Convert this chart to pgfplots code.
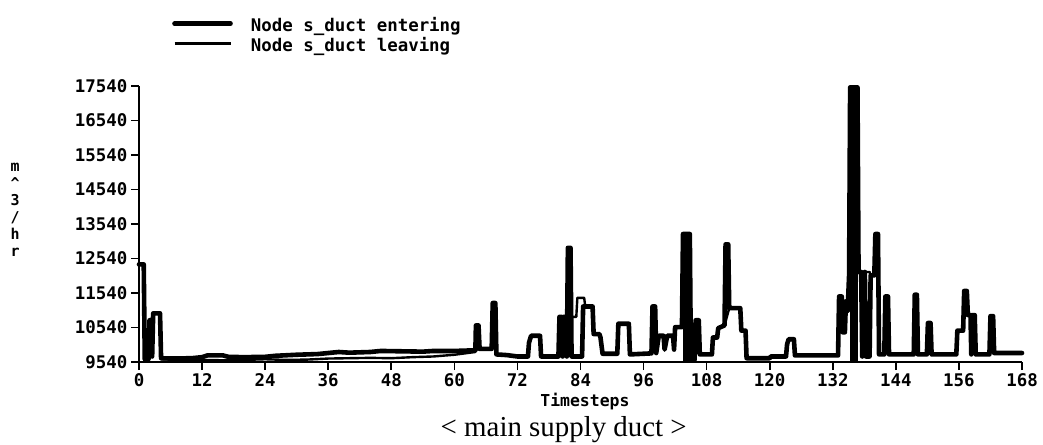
\documentclass[border=0pt]{standalone}
\usepackage{pgfplots}
\pgfplotsset{compat=1.18}
\usepackage{fontspec}
\setmainfont{DejaVu Sans Mono}
\newfontfamily\captionfont{Liberation Serif}

\newcommand\plotfont{\bfseries\fontsize{17.5}{21}\selectfont}

\begin{document}
\begin{tikzpicture}
\path[use as bounding box] (0,0) rectangle (1043bp,445bp);
\begin{axis}[
  at={(139bp,83bp)}, anchor=south west,
  scale only axis, width=883bp, height=276bp,
  xmin=0, xmax=168, ymin=9540, ymax=17540,
  axis lines*=left,
  axis line style={line width=1.6bp},
  xtick={0,12,24,36,48,60,72,84,96,108,120,132,144,156,168},
  ytick={9540,10540,11540,12540,13540,14540,15540,16540,17540},
  yticklabels={9540,10540,11540,12540,13540,14540,15540,16540,17540},
  scaled ticks=false,
  tick align=outside,
  major tick length=8bp,
  every tick/.style={black, line width=1.6bp},
  tick label style={font=\plotfont},
  /pgf/number format/assume math mode=true,
  /pgf/number format/1000 sep={},
  xlabel={Timesteps},
  xlabel style={font=\bfseries\fontsize{16.5}{20}\selectfont, at={(axis description cs:0.505,-0.142)}, anchor=center},
  ylabel={m\\\textasciicircum\\3\\/\\h\\r},
  ylabel style={font=\bfseries\fontsize{15}{17}\selectfont, rotate=-90, align=center,
                at={(axis description cs:-0.1404,0.551)}, anchor=center},
  clip=false,
  legend cell align=left,
  legend image code/.code={\draw[#1] (0bp,3.5bp) -- (56bp,3.5bp);},
  legend style={draw=none, fill=none, inner sep=0pt, row sep=4bp,
    at={(axis description cs:0.0374,1.243)}, anchor=north west,
    font=\plotfont,
    nodes={inner sep=0pt, text height=12bp, text depth=4bp},
    /tikz/every odd column/.append style={column sep=18bp}},
]
% solid bodies of the two widest entering peaks
\addplot[black, fill=black, draw=none, forget plot] coordinates {(103.5,13250) (104.9,13250)} \closedcycle;
\addplot[black, fill=black, draw=none, forget plot] coordinates {(135.3,17500) (136.8,17500)} \closedcycle;
% flow entering the duct node
\addplot[black, line width=4.6bp, line join=round, line cap=round] coordinates {
(0,12370) (0.9,12370) (1.1,9620) (1.8,9620) (2.0,10750) (2.3,10750) (2.5,9700) (2.7,10950) (4.0,10950) (4.2,9650)
(6,9640) (10,9650) (12,9680) (13,9730) (16,9730) (17,9690) (20,9680) (24,9690) (26,9720) (30,9750)
(34,9770) (36,9800) (38,9830) (40,9810) (44,9830) (46,9860) (50,9850) (54,9840) (56,9860) (60,9860) (64.0,9880)
(64.1,10600) (64.6,10600) (64.8,9920) (67.1,9920) (67.3,11250) (67.8,11250) (68.0,9760) (70,9740) (72,9700) (74,9700)
(74.2,10100) (74.6,10300) (76.3,10300) (76.5,9700) (79.8,9700)
(80.0,10850) (80.4,10850) (80.6,9700) (80.8,10850) (81.2,10850) (81.4,9700) (81.6,12850) (82.1,12850)
(82.3,9700) (84.3,9700) (84.5,11150)
(86.3,11150) (86.5,10350) (87.6,10350) (87.8,10250) (88.2,9780) (91.0,9780) (91.2,10650) (93.2,10650) (93.4,9760) (97.5,9790)
(97.7,11150) (98.2,11150) (98.4,9800) (98.9,10300) (99.8,10300) (100.0,9900) (100.5,10300) (101.6,10300)
(101.8,9900) (102.0,10550) (103.3,10550) (103.5,13250) (104.8,13250)
(105.0,9600) (105.7,9600) (105.9,10750) (106.5,10750) (106.7,9760) (109,9760)
(109.2,10250) (110,10250) (110.2,10520) (111.4,10600) (111.6,12950) (112.1,12950) (112.3,11100) (114.4,11100)
(114.6,10450) (115.4,10450) (115.6,9650) (120,9650)
(120.2,9700) (123.1,9700) (123.3,10050) (123.6,10200) (124.6,10200) (124.8,9730) (133,9730)
(133.2,11440) (133.7,11440) (133.9,10400) (134.3,10400) (134.5,11300) (134.9,11300) (135.1,12050)
(135.3,17500) (136.7,17500) (136.9,12150) (137.4,12150)
(137.6,9700) (138.1,12150) (138.3,9700) (139.0,9700) (139.2,12050) (139.9,12050)
(140.1,13250) (140.6,13250) (140.8,9760) (141.8,9760) (142.0,11440) (142.5,11440) (142.7,9760) (147.4,9760)
(147.6,11490) (148.0,11490) (148.2,9760) (149.9,9760) (150.1,10670) (150.6,10670) (150.8,9760) (155.5,9760)
(155.7,10450) (156.8,10450) (157.0,11600) (157.5,11600) (157.7,10900) (158.2,10900) (158.35,9760)
(158.5,10900) (159.0,10900) (159.2,9760) (161.8,9760)
(162.0,10870) (162.5,10870) (162.7,9800) (168,9800)
};
\addlegendentry{Node s\_duct entering}
% flow leaving the duct node
\addplot[black, line width=2.4bp, line join=round] coordinates {
(0,12370) (0.9,12370) (1.1,9620) (1.8,9620) (2.0,10750) (2.3,10750) (2.7,10950) (4.0,10950) (4.2,9620)
(6,9610) (12,9600) (16,9590) (20,9600) (24,9620) (28,9600) (32,9610) (36,9640) (40,9650) (44,9660)
(48,9650) (52,9680) (56,9700) (60,9750) (64.0,9830)
(64.1,10600) (64.6,10600) (64.8,9920) (67.1,9920) (67.3,11250) (67.8,11250) (68.0,9760) (70,9740) (72,9700) (74,9700)
(74.2,10100) (74.6,10300) (76.3,10300) (76.5,9700) (79.8,9700)
(80.0,10850) (83.2,10850) (83.4,11400) (84.7,11400) (84.9,11150)
(86.3,11150) (86.5,10350) (87.6,10350) (87.8,10250) (88.2,9780) (91.0,9780) (91.2,10650) (93.2,10650) (93.4,9760) (97.5,9790)
(97.7,11150) (98.2,11150) (98.4,10300) (101.9,10300) (102.1,10550) (104.8,10550) (105.0,9600) (105.7,9600)
(105.9,10750) (106.5,10750) (106.7,9760) (109,9760)
(109.2,10250) (110,10250) (110.2,10520) (111.4,10600) (112.3,11100) (114.4,11100)
(114.6,10450) (115.4,10450) (115.6,9650) (120,9650)
(120.2,9700) (123.1,9700) (123.3,10050) (123.6,10200) (124.6,10200) (124.8,9730) (133,9730)
(133.2,11000) (135.0,11000) (135.1,12050) (137.3,12150) (139.0,12150) (139.2,12050) (140.6,12050)
(140.8,9760) (141.8,9760) (142.0,11440) (142.5,11440) (142.7,9760) (147.4,9760)
(147.6,11490) (148.0,11490) (148.2,9760) (149.9,9760) (150.1,10670) (150.6,10670) (150.8,9760) (155.5,9760)
(155.7,10450) (156.8,10450) (157.0,11600) (157.5,11600) (157.7,10900) (159.0,10900) (159.2,9760) (161.8,9760)
(162.0,10870) (162.5,10870) (162.7,9800) (168,9800)
};
\addlegendentry{Node s\_duct leaving}
\node[font=\captionfont\fontsize{29}{32}\selectfont] at (axis description cs:0.481,-0.246) {< main supply duct >};
\end{axis}
\end{tikzpicture}
\end{document}
